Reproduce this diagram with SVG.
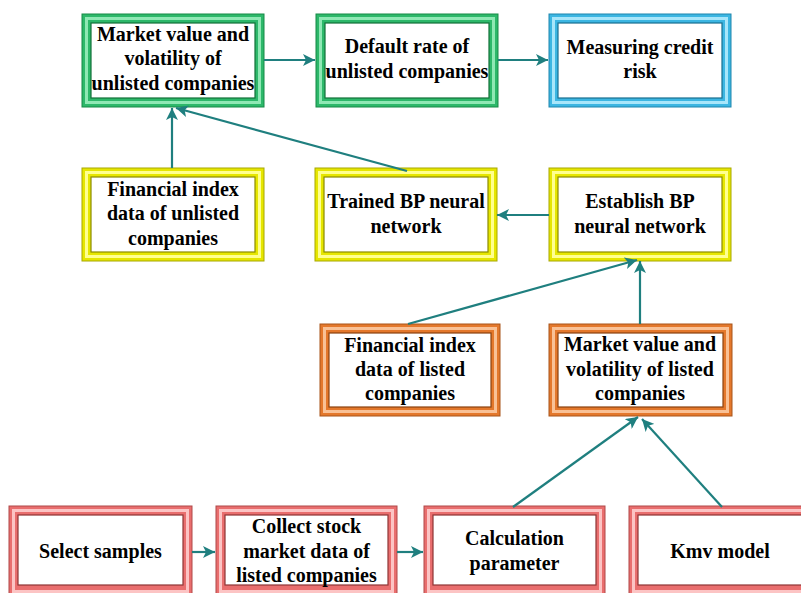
<svg xmlns="http://www.w3.org/2000/svg" width="801" height="593" viewBox="0 0 801 593">
<style>
.o{stroke-width:1}
.r{fill:none;stroke-width:3}
.i{fill:#fff;stroke-width:1.2}
.g .o{fill:#2db86a;stroke:#178a47}.g .r{stroke:#8fe8b4}.g .i{stroke:#127038}
.y .o{fill:#e6e600;stroke:#a8a800}.y .r{stroke:#ffff90}.y .i{stroke:#8a8a00}
.b .o{fill:#3cb6e2;stroke:#1f86ad}.b .r{stroke:#a8e6fa}.b .i{stroke:#186f90}
.n .o{fill:#e4782c;stroke:#a8541a}.n .r{stroke:#f9c196}.n .i{stroke:#8a4210}
.p .o{fill:#e96e6e;stroke:#b04848}.p .r{stroke:#fcc4c4}.p .i{stroke:#8e3434}
.t{font-family:'Liberation Serif','Times New Roman',serif;font-weight:bold;font-size:20px;fill:#000;text-anchor:middle}
.c line{stroke:#1f7f7f;stroke-width:2.2;marker-end:url(#ah)}
</style>
<defs>
<marker id="ah" markerUnits="userSpaceOnUse" markerWidth="14" markerHeight="12" refX="12" refY="6" orient="auto">
<path d="M0,0 L12,6 L0,12 L3,6 Z" fill="#1f7f7f"/>
</marker>
</defs>
<rect width="801" height="593" fill="#fff"/>

<g id="n1" class="g"><rect class="o" x="82" y="14" width="182" height="93"/><rect class="r" x="86.5" y="18.5" width="173" height="84"/><rect class="i" x="91" y="23" width="164" height="75"/>
<text class="t" x="173" y="41">Market value and</text><text class="t" x="173" y="65">volatility of</text><text class="t" x="173" y="90">unlisted companies</text></g>
<g id="n2" class="g"><rect class="o" x="316" y="14" width="182" height="93"/><rect class="r" x="320.5" y="18.5" width="173" height="84"/><rect class="i" x="325" y="23" width="164" height="75"/>
<text class="t" x="407" y="53">Default rate of</text><text class="t" x="407" y="78">unlisted companies</text></g>
<g id="n3" class="b"><rect class="o" x="549" y="14" width="182" height="93"/><rect class="r" x="553.5" y="18.5" width="173" height="84"/><rect class="i" x="558" y="23" width="164" height="75"/>
<text class="t" x="640" y="54">Measuring credit</text><text class="t" x="640" y="78">risk</text></g>

<g id="n4" class="y"><rect class="o" x="82" y="168" width="182" height="93"/><rect class="r" x="86.5" y="172.5" width="173" height="84"/><rect class="i" x="91" y="177" width="164" height="75"/>
<text class="t" x="173" y="196">Financial index</text><text class="t" x="173" y="220">data of unlisted</text><text class="t" x="173" y="245">companies</text></g>
<g id="n5" class="y"><rect class="o" x="315" y="168" width="182" height="93"/><rect class="r" x="319.5" y="172.5" width="173" height="84"/><rect class="i" x="324" y="177" width="164" height="75"/>
<text class="t" x="406" y="208">Trained BP neural</text><text class="t" x="406" y="233">network</text></g>
<g id="n6" class="y"><rect class="o" x="549" y="168" width="182" height="93"/><rect class="r" x="553.5" y="172.5" width="173" height="84"/><rect class="i" x="558" y="177" width="164" height="75"/>
<text class="t" x="640" y="208">Establish BP</text><text class="t" x="640" y="233">neural network</text></g>

<g id="n7" class="n"><rect class="o" x="320" y="324" width="180" height="92"/><rect class="r" x="324.5" y="328.5" width="171" height="83"/><rect class="i" x="329" y="333" width="162" height="74"/>
<text class="t" x="410" y="352">Financial index</text><text class="t" x="410" y="376">data of listed</text><text class="t" x="410" y="400">companies</text></g>
<g id="n8" class="n"><rect class="o" x="549" y="324" width="183" height="92"/><rect class="r" x="553.5" y="328.5" width="174" height="83"/><rect class="i" x="558" y="333" width="165" height="74"/>
<text class="t" x="640" y="351">Market value and</text><text class="t" x="640" y="376">volatility of listed</text><text class="t" x="640" y="400">companies</text></g>

<g id="n9" class="p"><rect class="o" x="9" y="506" width="183" height="90"/><rect class="r" x="13.5" y="510.5" width="174" height="81"/><rect class="i" x="18" y="515" width="165" height="70"/>
<text class="t" x="100.5" y="558">Select samples</text></g>
<g id="n10" class="p"><rect class="o" x="216" y="506" width="181" height="90"/><rect class="r" x="220.5" y="510.5" width="172" height="81"/><rect class="i" x="225" y="515" width="163" height="70"/>
<text class="t" x="306.5" y="533">Collect stock</text><text class="t" x="306.5" y="558">market data of</text><text class="t" x="306.5" y="582">listed companies</text></g>
<g id="n11" class="p"><rect class="o" x="424" y="506" width="181" height="90"/><rect class="r" x="428.5" y="510.5" width="172" height="81"/><rect class="i" x="433" y="515" width="163" height="70"/>
<text class="t" x="514.5" y="545">Calculation</text><text class="t" x="514.5" y="570">parameter</text></g>
<g id="n12" class="p"><rect class="o" x="629" y="506" width="182" height="90"/><rect class="r" x="633.5" y="510.5" width="173" height="81"/><rect class="i" x="638" y="515" width="164" height="70"/>
<text class="t" x="720" y="558">Kmv model</text></g>

<g id="connectors" class="c">
<line x1="264" y1="60" x2="315" y2="60"/>
<line x1="498" y1="60" x2="548" y2="60"/>
<line x1="172" y1="168" x2="172" y2="108"/>
<line x1="407" y1="171" x2="176" y2="108"/>
<line x1="549" y1="215" x2="497" y2="215"/>
<line x1="408" y1="324" x2="637" y2="260"/>
<line x1="640" y1="324" x2="640" y2="261"/>
<line x1="513" y1="507" x2="638" y2="417"/>
<line x1="722" y1="507" x2="642" y2="419"/>
<line x1="192" y1="552" x2="215" y2="552"/>
<line x1="397" y1="552" x2="423" y2="552"/>
</g>
</svg>
